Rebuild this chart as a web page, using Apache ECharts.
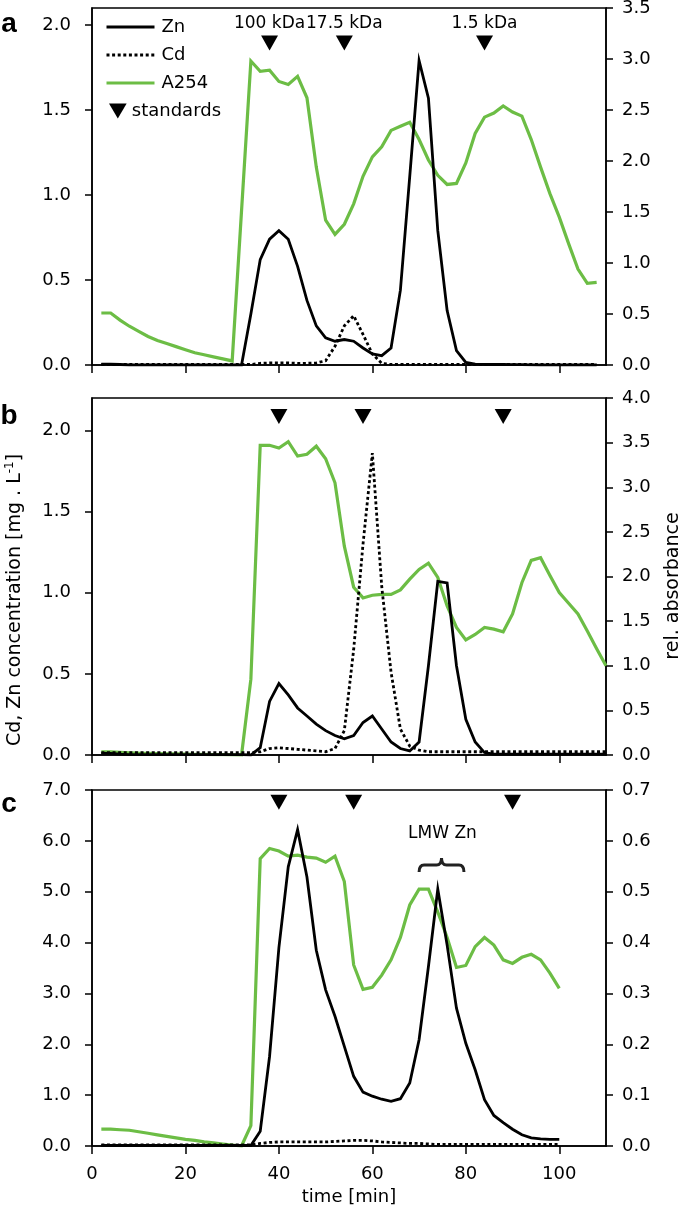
<!DOCTYPE html>
<html><head><meta charset="utf-8">
<script src="https://cdn.jsdelivr.net/npm/echarts@6/dist/echarts.min.js"></script>
<style>html,body{margin:0;padding:0;background:#fff}#c{width:685px;height:1210px}</style>
</head><body><div id="c"></div>
<script>
// ---------- DATA ----------
const xTickValues = [0, 20, 40, 60, 80, 100];
const leftTicksAB = [0, 0.5, 1.0, 1.5, 2.0];

// panel a
const tA = [2,4,6,8,10,12,14,16,18,20,22,24,26,28,30,32,34,36,38,40,42,44,46,48,50,52,54,56,58,60,62,64,66,68,70,72,74,76,78,80,82,84,86,88,90,92,94,96,98,100,102,104,106,108];
const znA = [0.005,0.005,0.003,0,0,0,0,0,0,0,0,0,0,0,0,0,
  0.30,0.62,0.74,0.79,0.74,0.58,0.38,0.23,0.16,0.14,0.15,0.14,0.10,0.065,0.055,0.10,0.44,1.11,1.79,1.57,0.79,0.32,0.085,0.015,0.005,0.004,0.003,0.003,0.002,0.002,0.001,0,0,0,0,0,0,0];
const cdA = [0.003,0.003,0.003,0.003,0.003,0.003,0.003,0.003,0.003,0.003,0.003,0.003,0.003,0.003,0.003,0.003,0.003,
  0.01,0.012,0.012,0.012,0.01,0.01,0.012,0.025,0.11,0.23,0.29,0.18,0.065,0.01,
  0.003,0.003,0.003,0.003,0.003,0.003,0.003,0.003,0.003,0.003,0.003,0.003,0.003,0.003,0.003,0.003,0.003,0.003,0.003,0.003,0.003,0.003,0.003];
const tGA = [2,4,6,8,10,12,14,16,18,20,22,24,26,28,30,34,36,38,40,42,44,46,48,50,52,54,56,58,60,62,64,66,68,70,72,74,76,78,80,82,84,86,88,90,92,94,96,98,100,102,104,106,108];
const a254A = [0.51,0.51,0.44,0.38,0.33,0.28,0.24,0.21,0.18,0.15,0.12,0.10,0.08,0.06,0.04,
  2.98,2.88,2.89,2.78,2.75,2.83,2.62,1.94,1.42,1.28,1.38,1.58,1.85,2.04,2.14,2.30,2.34,2.38,2.21,2.01,1.86,1.77,1.78,1.98,2.27,2.43,2.47,2.54,2.48,2.44,2.21,1.94,1.68,1.45,1.19,0.94,0.80,0.81];
const stdTimesA = [38, 54, 84];
const stdNamesA = ['100 kDa', '17.5 kDa', '1.5 kDa'];
const stdLevelA = 1.894;

// panel b
const tB = [2,4,6,8,10,12,14,16,18,20,22,24,26,28,30,32,34,36,38,40,42,44,46,48,50,52,54,56,58,60,62,64,66,68,70,72,74,76,78,80,82,84,86,88,90,92,94,96,98,100,102,104,106,108,110];
const znB = [0.01,0.01,0.005,0.002,0.002,0.002,0.002,0.002,0.002,0.002,0.002,0.002,0.002,0.002,0.002,0.002,
  0.0,0.045,0.33,0.44,0.37,0.29,0.24,0.19,0.15,0.12,0.10,0.12,0.20,0.24,0.16,0.08,0.04,0.025,0.08,0.55,1.07,1.06,0.55,0.22,0.08,0.015,
  0.005,0.005,0.005,0.005,0.005,0.005,0.005,0.005,0.005,0.005,0.005,0.005,0.005];
const cdB = [0.015,0.015,0.015,0.015,0.015,0.015,0.015,0.015,0.015,0.015,0.015,0.015,0.015,0.015,0.015,0.015,0.015,
  0.02,0.04,0.045,0.04,0.035,0.03,0.025,0.02,0.04,0.15,0.65,1.30,1.86,1.04,0.51,0.16,0.055,0.03,0.02,
  0.02,0.02,0.02,0.02,0.02,0.02,0.02,0.02,0.02,0.02,0.02,0.02,0.02,0.02,0.02,0.02,0.02,0.02,0.02];
const a254B = [0.035,0.035,0.03,0.025,0.02,0.018,0.016,0.014,0.012,0.01,0.008,0.006,0.005,0.004,0.002,0,
  0.85,3.47,3.47,3.44,3.51,3.35,3.37,3.46,3.32,3.05,2.34,1.88,1.76,1.79,1.80,1.80,1.85,1.97,2.08,2.15,1.99,1.67,1.43,1.29,1.35,1.43,1.41,1.38,1.58,1.93,2.18,2.21,2.01,1.82,1.70,1.58,1.39,1.19,1.00];
const stdTimesB = [40, 58, 88];
const stdLevelB = 2.086;

// panel c
const tC = [2,4,6,8,10,12,14,16,18,20,22,24,26,28,30,32,34,36,38,40,42,44,46,48,50,52,54,56,58,60,62,64,66,68,70,72,74,76,78,80,82,84,86,88,90,92,94,96,98,100];
const znC = [0.01,0.01,0.01,0.01,0.01,0.01,0.01,0.01,0.01,0.01,0.01,0.01,0.01,0.01,0.01,0.01,0.01,
  0.29,1.76,3.9,5.49,6.22,5.29,3.85,3.07,2.55,1.96,1.37,1.06,0.98,0.92,0.88,0.93,1.24,2.09,3.53,5.05,3.95,2.71,2.02,1.50,0.91,0.60,0.46,0.33,0.22,0.16,0.14,0.13,0.13];
const cdC = [0.02,0.02,0.02,0.02,0.02,0.02,0.02,0.02,0.02,0.02,0.02,0.02,0.02,0.02,0.02,0.02,0.02,
  0.05,0.07,0.08,0.08,0.08,0.08,0.08,0.08,0.09,0.10,0.11,0.11,0.10,0.08,0.07,0.06,0.05,0.05,0.04,
  0.03,0.03,0.03,0.03,0.03,0.03,0.03,0.03,0.03,0.03,0.03,0.03,0.03,0.03];
const a254C = [0.033,0.033,0.032,0.031,0.028,0.025,0.022,0.019,0.016,0.013,0.011,0.008,0.006,0.004,0.002,0,
  0.04,0.565,0.585,0.58,0.57,0.572,0.568,0.566,0.558,0.57,0.52,0.356,0.308,0.312,0.336,0.366,0.41,0.474,0.505,0.505,0.46,0.41,0.351,0.355,0.392,0.41,0.395,0.366,0.359,0.371,0.377,0.366,0.34,0.31];
const stdTimesC = [40, 56, 90];
const stdLevelC = 6.76;
// LMW Zn bracket: [start time, end time, bracket base level, label time, label level]
const lmwBracket = [[70, 79.6, 5.39, 75, 6.15]];

// ---------- CHART ----------
const FONT = 'DejaVu Sans';
const GREEN = '#6cbd45';
const BLACK = '#000';
const pairs = (t, v) => t.map((x, i) => [x, v[i]]);
const fmt1 = v => (Math.round(v * 10) / 10).toFixed(1);

const panels = [{top: 8, height: 357}, {top: 398, height: 357}, {top: 790, height: 356}];
const grid = panels.map(p => ({left: 92, right: 79, top: p.top, height: p.height,
  show: true, borderColor: BLACK, borderWidth: 1.5, backgroundColor: 'transparent', outerBoundsMode: 'none'}));

const axisLine = {show: true, onZero: false, lineStyle: {color: BLACK, width: 1.5}};
const tickStyle = {color: BLACK, width: 1.5};
const labelBase = {color: BLACK, fontSize: 18, fontFamily: FONT};

const xAxis = [0, 1, 2].map(i => ({
  type: 'value', gridIndex: i, min: 0, max: 110,
  axisLine, splitLine: {show: false},
  axisTick: {show: true, length: 8, lineStyle: tickStyle, customValues: xTickValues},
  axisLabel: Object.assign({show: i === 2, margin: 19, customValues: xTickValues}, labelBase),
  name: i === 2 ? 'time [min]' : '', nameLocation: 'middle', nameGap: 42,
  nameTextStyle: {color: BLACK, fontSize: 18, fontFamily: FONT}
}));

function leftAxis(gi, max, opts) {
  return Object.assign({type: 'value', gridIndex: gi, position: 'left', min: 0, max,
    axisLine, splitLine: {show: false},
    axisTick: Object.assign({show: true, length: 7, lineStyle: tickStyle}, opts.tick || {}),
    axisLabel: Object.assign({margin: 21, formatter: fmt1}, labelBase, opts.label || {})}, opts.extra || {});
}
function rightAxis(gi, max, interval) {
  return {type: 'value', gridIndex: gi, position: 'right', min: 0, max, interval,
    axisLine, splitLine: {show: false},
    axisTick: {show: true, length: 7, lineStyle: tickStyle},
    axisLabel: Object.assign({margin: 16, formatter: fmt1}, labelBase)};
}
const yAxis = [
  leftAxis(0, 2.1, {tick: {customValues: leftTicksAB}, label: {customValues: leftTicksAB}}),
  rightAxis(0, 3.5, 0.5),
  leftAxis(1, 2.2, {tick: {customValues: leftTicksAB}, label: {customValues: leftTicksAB}}),
  rightAxis(1, 4.0, 0.5),
  leftAxis(2, 7, {extra: {interval: 1}}),
  rightAxis(2, 0.7, 0.1)
];

function lineSeries(name, gi, yi, data, color, width, type, z) {
  return {type: 'line', name, xAxisIndex: gi, yAxisIndex: yi, data, symbol: 'none', z,
    lineStyle: {color, width, type, cap: 'butt', join: 'miter'}, itemStyle: {color},
    animation: false, silent: true};
}
function stdSeries(gi, yi, times, level, names) {
  return {type: 'scatter', name: 'standards', xAxisIndex: gi, yAxisIndex: yi, z: 6,
    symbol: 'triangle', symbolRotate: 180, symbolSize: [17, 15], itemStyle: {color: BLACK, opacity: 1},
    data: times.map((t, i) => ({value: [t, level], name: names ? names[i] : ''})),
    label: {show: !!names, position: 'top', distance: 3, formatter: p => p.name,
      color: BLACK, opacity: 1, fontSize: 17, fontFamily: FONT},
    animation: false, silent: true};
}

const DOT = [3, 2.6];
const series = [
  lineSeries('A254', 0, 1, pairs(tGA, a254A), GREEN, 3.2, 'solid', 2),
  lineSeries('Cd', 0, 0, pairs(tA, cdA), BLACK, 2.8, DOT, 3),
  lineSeries('Zn', 0, 0, pairs(tA, znA), BLACK, 2.8, 'solid', 4),
  stdSeries(0, 0, stdTimesA, stdLevelA, stdNamesA),

  lineSeries('A254', 1, 3, pairs(tB, a254B), GREEN, 3.2, 'solid', 2),
  lineSeries('Cd', 1, 2, pairs(tB, cdB), BLACK, 2.8, DOT, 3),
  lineSeries('Zn', 1, 2, pairs(tB, znB), BLACK, 2.8, 'solid', 4),
  stdSeries(1, 2, stdTimesB, stdLevelB, null),

  lineSeries('A254', 2, 5, pairs(tC, a254C), GREEN, 3.2, 'solid', 2),
  lineSeries('Cd', 2, 4, pairs(tC, cdC), BLACK, 2.8, DOT, 3),
  lineSeries('Zn', 2, 4, pairs(tC, znC), BLACK, 2.8, 'solid', 4),
  stdSeries(2, 4, stdTimesC, stdLevelC, null),

  {type: 'custom', name: 'lmw', xAxisIndex: 2, yAxisIndex: 4, data: lmwBracket, clip: false, z: 7,
    silent: true, animation: false,
    renderItem: (params, api) => {
      const p0 = api.coord([api.value(0), api.value(2)]);
      const p1 = api.coord([api.value(1), api.value(2)]);
      const tp = api.coord([api.value(3), api.value(4)]);
      const x0 = p0[0], x1 = p1[0], yb = p0[1], xm = (x0 + x1) / 2, h = 14, r = 5, ym = yb - h / 2;
      const d = `M${x0},${yb} Q${x0},${ym} ${x0 + r},${ym} L${xm - r},${ym} Q${xm},${ym} ${xm},${yb - h} ` +
                `Q${xm},${ym} ${xm + r},${ym} L${x1 - r},${ym} Q${x1},${ym} ${x1},${yb}`;
      return {type: 'group', children: [
        {type: 'path', shape: {pathData: d}, style: {stroke: '#222', lineWidth: 3, fill: null}},
        {type: 'text', x: tp[0], y: tp[1], style: {text: 'LMW Zn', fill: BLACK, fontSize: 17, fontFamily: FONT,
          align: 'center', verticalAlign: 'middle'}}
      ]};
    }}
];

const legendText = {color: BLACK, fontSize: 18, fontFamily: FONT};
const legend = [
  {data: ['Zn', 'Cd', 'A254'], orient: 'vertical', left: 100, top: 13, itemWidth: 48, itemHeight: 14, itemGap: 10,
    selectedMode: false, itemStyle: {opacity: 0}, lineStyle: {width: 3},
    textStyle: Object.assign({padding: [0, 0, 0, 2]}, legendText)},
  {data: [{name: 'standards', icon: 'path://M0,0L20,0L10,17Z'}], orient: 'vertical', left: 104, top: 97,
    itemWidth: 18, itemHeight: 15, itemGap: 7, selectedMode: false, itemStyle: {color: BLACK, opacity: 1},
    textStyle: Object.assign({padding: [0, 0, 0, 0]}, legendText)}
];

const panelLabel = (t, y) => ({type: 'text', x: 9, y, silent: true,
  style: {text: t, fill: BLACK, font: 'bold 28px "Liberation Sans", Arial, sans-serif', align: 'center', verticalAlign: 'middle'}});

const graphic = [
  panelLabel('a', 24), panelLabel('b', 416), panelLabel('c', 804),
  {type: 'text', x: 15, y: 600, rotation: Math.PI / 2, silent: true,
    style: {text: '{m|Cd, Zn concentration [mg . L}{s|-1}{m|]}', align: 'center', verticalAlign: 'middle', fill: BLACK,
      rich: {m: {fontSize: 19, fontFamily: FONT, lineHeight: 22, fill: BLACK},
             s: {fontSize: 12, fontFamily: FONT, verticalAlign: 'top', fill: BLACK}}}},
  {type: 'text', x: 673, y: 586, rotation: Math.PI / 2, silent: true,
    style: {text: 'rel. absorbance', align: 'center', verticalAlign: 'middle', fill: BLACK, fontSize: 19, fontFamily: FONT}}
];

const chart = echarts.init(document.getElementById('c'), null, {renderer: 'canvas'});
chart.setOption({animation: false, backgroundColor: '#fff', grid, xAxis, yAxis, series, legend, graphic});
</script>
</body></html>
